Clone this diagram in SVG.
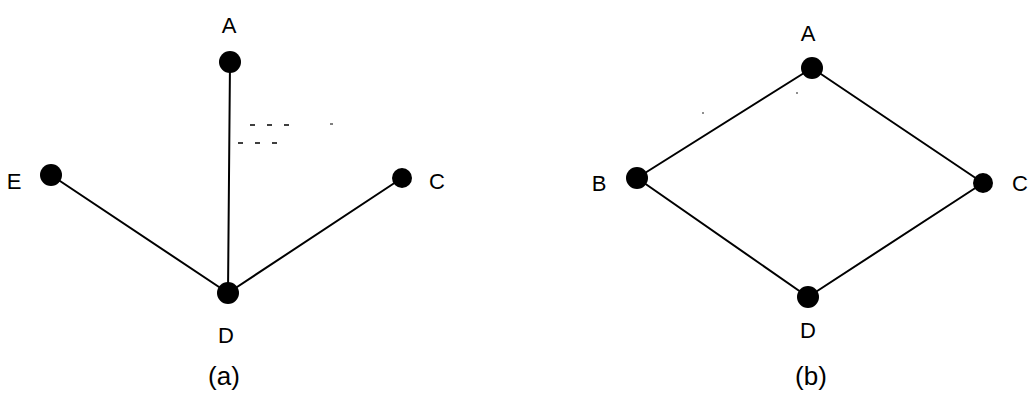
<svg xmlns="http://www.w3.org/2000/svg" width="1028" height="397" viewBox="0 0 1028 397">
<style>
.e{stroke:#000;stroke-width:2;fill:none;stroke-linecap:round}
.n{fill:#000}
.t{font-family:"Liberation Sans",Arial,sans-serif;font-size:22px;fill:#000;text-anchor:middle}
.c{font-family:"Liberation Sans",Arial,sans-serif;font-size:26px;fill:#000;text-anchor:middle}
.d{stroke:#000;stroke-width:1.5;stroke-dasharray:5 12;fill:none}
</style>
<rect width="1028" height="397" fill="#fff"/>
<g id="connectors">
<line class="e" x1="230" y1="62" x2="228" y2="293"/>
<line class="e" x1="51" y1="175" x2="228" y2="293"/>
<line class="e" x1="402" y1="178" x2="228" y2="293"/>
<line class="e" x1="812" y1="68" x2="637" y2="178"/>
<line class="e" x1="812" y1="68" x2="983" y2="183"/>
<line class="e" x1="637" y1="178" x2="808" y2="297"/>
<line class="e" x1="983" y1="183" x2="808" y2="297"/>
</g>
<g id="marks">
<line class="d" x1="250" y1="125" x2="300" y2="125"/>
<line x1="330" y1="124" x2="333" y2="124" stroke="#000" stroke-width="1"/>
<line class="d" x1="238" y1="143" x2="285" y2="143"/>
<circle cx="703" cy="113" r="0.8" fill="#000"/>
<circle cx="797" cy="93" r="0.8" fill="#000"/>
</g>
<g id="a-A"><circle class="n" cx="230" cy="62" r="11"/><text class="t" x="229" y="33">A</text></g>
<g id="a-E"><circle class="n" cx="51" cy="175" r="11"/><text class="t" x="14" y="189">E</text></g>
<g id="a-C"><circle class="n" cx="402" cy="178" r="10"/><text class="t" x="437" y="189">C</text></g>
<g id="a-D"><circle class="n" cx="228" cy="293" r="11"/><text class="t" x="226" y="343">D</text></g>
<text class="c" x="224" y="385">(a)</text>
<g id="b-A"><circle class="n" cx="812" cy="68" r="11"/><text class="t" x="808" y="41">A</text></g>
<g id="b-B"><circle class="n" cx="637" cy="178" r="11"/><text class="t" x="599" y="191">B</text></g>
<g id="b-C"><circle class="n" cx="983" cy="183" r="10"/><text class="t" x="1020" y="191">C</text></g>
<g id="b-D"><circle class="n" cx="808" cy="297" r="11"/><text class="t" x="808" y="338">D</text></g>
<text class="c" x="811" y="385">(b)</text>
</svg>
